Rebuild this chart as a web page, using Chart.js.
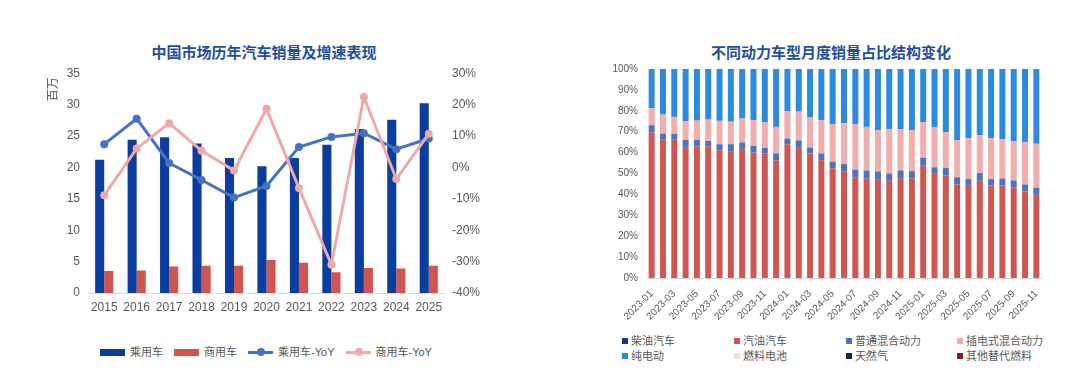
<!DOCTYPE html>
<html>
<head>
<meta charset="utf-8">
<script src="https://cdn.jsdelivr.net/npm/chart.js@4.4.1/dist/chart.umd.min.js"></script>
<style>
  html, body { margin: 0; padding: 0; background: #ffffff; }
  body { width: 1080px; height: 371px; position: relative; overflow: hidden;
         font-family: 'Liberation Sans', 'Noto Sans CJK SC', sans-serif; }
  .title { position: absolute; top: 43px; height: 20px; line-height: 20px; font-size: 15px; font-weight: bold;
           color: #1f4fa0; text-align: center; white-space: nowrap; }
  #leftTitle { left: 64px; width: 400px; }
  #rightTitle { left: 631px; width: 400px; }
  #leftWrap { position: absolute; left: 40px; top: 58px; width: 470px; height: 257px; }
  #rightWrap { position: absolute; left: 590px; top: 55px; width: 470px; height: 267px; }
  #leftLegend { position: absolute; left: 0; width: 532px; top: 345px; height: 14px; display: flex;
                justify-content: center; font-size: 11px; color: #595959; line-height: 14px; }
  #leftLegend .it { display: flex; align-items: center; margin: 0 5.5px; white-space: nowrap; }
  #leftLegend .ic { position: relative; width: 25px; height: 10px; margin-right: 5px; }
  #rightLegend { position: absolute; left: 0; top: 334px; width: 1080px; height: 36px;
                 font-size: 11px; color: #595959; }
  .li { position: absolute; height: 14px; line-height: 14px; white-space: nowrap; }
  .li span.box { display: inline-block; width: 6px; height: 6px; margin-right: 3px; vertical-align: 1px; }
</style>
</head>
<body>
<div class="title" id="leftTitle">中国市场历年汽车销量及增速表现</div>
<div class="title" id="rightTitle">不同动力车型月度销量占比结构变化</div>
<div id="leftWrap"><canvas id="leftChart"></canvas></div>
<div id="rightWrap"><canvas id="rightChart"></canvas></div>
<div id="leftLegend"></div>
<div id="rightLegend"></div>
<script>
// ---------------- Left chart data ----------------
const years = ['2015','2016','2017','2018','2019','2020','2021','2022','2023','2024','2025'];
const passengerSales = [21.2, 24.4, 24.8, 23.8, 21.5, 20.2, 21.5, 23.6, 26.1, 27.6, 30.2];
const commercialSales = [3.5, 3.6, 4.2, 4.35, 4.35, 5.25, 4.8, 3.3, 4.0, 3.9, 4.35];
const passengerYoY = [7.4, 15.5, 1.4, -4.0, -9.6, -5.9, 6.5, 9.7, 10.9, 5.8, 9.2];
const commercialYoY = [-8.9, 6.0, 14.1, 5.3, -1.0, 18.7, -6.6, -31.0, 22.4, -3.7, 10.7];
const leftSeriesNames = ['乘用车', '商用车', '乘用车-YoY', '商用车-YoY'];

// ---------------- Right chart data ----------------
const months = ['2023-01','2023-02','2023-03','2023-04','2023-05','2023-06','2023-07','2023-08','2023-09','2023-10','2023-11','2023-12',
                '2024-01','2024-02','2024-03','2024-04','2024-05','2024-06','2024-07','2024-08','2024-09','2024-10','2024-11','2024-12',
                '2025-01','2025-02','2025-03','2025-04','2025-05','2025-06','2025-07','2025-08','2025-09','2025-10','2025-11'];
const dieselShare = [0,0,0.3,0,0,0.3,0,0,0,0,0,0, 0,0.3,0,0,0,0,0,0,0,0,0,0, 0,0,0,0,0,0,0,0,0,0,0];
const gasolineShare = [69.6,66.4,66.1,62.7,62.9,62.6,61.1,60.7,61.8,60.0,59.6,56.2,
                       64.0,62.4,59.6,56.4,52.5,51.0,48.2,47.5,47.3,46.5,47.8,47.6,
                       54.0,50.2,49.0,44.7,44.1,46.5,44.3,44.3,43.3,41.4,39.8];
const hevShare = [3.5,2.7,2.6,3.4,3.2,2.7,2.9,3.3,3.0,3.2,2.7,3.4,
                  2.7,3.1,2.8,3.2,3.2,3.5,3.6,3.9,3.7,3.5,3.6,3.5,
                  3.6,2.8,3.7,3.5,3.2,3.7,3.0,3.3,3.4,3.3,3.4];
const phevShare = [8.1,9.1,8.1,8.9,9.2,10.2,11.2,10.8,11.5,12.3,12.1,12.7,
                   13.2,13.8,14.4,16.0,18.0,19.5,21.9,20.9,19.7,21.2,19.9,19.6,
                   16.9,19.1,17.0,17.7,19.6,18.1,19.6,18.8,18.7,20.3,21.0];
const bevShare = [18.8,21.8,22.9,25.0,24.7,24.2,24.8,25.2,23.7,24.5,25.6,27.7,
                  20.1,20.4,23.2,24.4,26.3,26.0,26.3,27.7,29.3,28.8,28.7,29.3,
                  25.5,27.9,30.3,34.1,33.1,31.7,33.1,33.6,34.6,35.0,35.8];
const fcevShare = [0,0,0,0,0,0,0,0,0,0,0,0, 0,0,0,0,0,0,0,0,0,0,0,0, 0,0,0,0,0,0,0,0,0,0,0];
const cngShare = [0,0,0,0,0,0,0,0,0,0,0,0, 0,0,0,0,0,0,0,0,0,0,0,0, 0,0,0,0,0,0,0,0,0,0,0];
const otherShare = [0,0,0,0,0,0,0,0,0,0,0,0, 0,0,0,0,0,0,0,0,0,0,0,0, 0,0,0,0,0,0,0,0,0,0,0];
const rightSeriesNames = ['柴油汽车','汽油汽车','普通混合动力','插电式混合动力','纯电动','燃料电池','天然气','其他替代燃料'];
const yTicksPercent = [0,10,20,30,40,50,60,70,80,90,100];

// ---------------- Styles ----------------
const FONT = "'Liberation Sans', 'Noto Sans CJK SC', sans-serif";
Chart.defaults.font.family = FONT;
Chart.defaults.color = '#595959';
Chart.defaults.animation = false;
const C_PASS = '#0a3d9e', C_COMM = '#d0554f', C_PASS_L = '#4672c4', C_COMM_L = '#f0a9a9';
const rightColors = ['#143c8c','#cf5752','#4b73c2','#f2adad','#2b8be0','#f7dde2','#0d2656','#8b1c1c'];
const leftColors = [C_PASS, C_COMM, C_PASS_L, C_COMM_L];
const leftKinds = ['bar', 'bar', 'line', 'line'];
const noGrid = { display: false, drawTicks: false, tickLength: 0 };

const unitLabel = {
  id: 'unitLabel',
  afterDraw(chart) {
    const ctx = chart.ctx, a = chart.chartArea;
    ctx.save();
    ctx.font = '12px ' + FONT;
    ctx.fillStyle = '#595959';
    ctx.translate(a.left - 34, a.top + 16);
    ctx.rotate(-Math.PI / 2);
    ctx.textAlign = 'center'; ctx.textBaseline = 'middle';
    ctx.fillText('百万', 0, 0);
    ctx.restore();
  }
};

new Chart(document.getElementById('leftChart'), {
  data: {
    labels: years,
    datasets: [
      { type: 'bar', label: leftSeriesNames[0], data: passengerSales, backgroundColor: C_PASS, yAxisID: 'y',
        categoryPercentage: 0.56, barPercentage: 1.0, order: 2 },
      { type: 'bar', label: leftSeriesNames[1], data: commercialSales, backgroundColor: C_COMM, yAxisID: 'y',
        categoryPercentage: 0.56, barPercentage: 1.0, order: 2 },
      { type: 'line', label: leftSeriesNames[2], data: passengerYoY, borderColor: C_PASS_L, backgroundColor: C_PASS_L,
        borderWidth: 3, pointRadius: 4, pointBackgroundColor: C_PASS_L, pointBorderWidth: 0, yAxisID: 'y1', order: 1, tension: 0 },
      { type: 'line', label: leftSeriesNames[3], data: commercialYoY, borderColor: C_COMM_L, backgroundColor: C_COMM_L,
        borderWidth: 3, pointRadius: 4, pointBackgroundColor: C_COMM_L, pointBorderWidth: 0, yAxisID: 'y1', order: 0, tension: 0 }
    ]
  },
  options: {
    responsive: true, maintainAspectRatio: false,
    layout: { padding: { left: 26, right: 30, top: 13, bottom: 0 } },
    plugins: { tooltip: { enabled: false }, legend: { display: false }, title: { display: false } },
    scales: {
      x: { grid: noGrid, border: { color: '#d9d9d9', width: 1 },
           afterFit: (s) => { s.height = 22; },
           ticks: { maxRotation: 0, minRotation: 0, autoSkip: false, font: { size: 12 }, color: '#595959', padding: 7 } },
      y: { position: 'left', min: 0, max: 35, grid: noGrid, border: { display: false },
           afterFit: (s) => { s.width = 22; },
           ticks: { stepSize: 5, font: { size: 12 }, color: '#595959', padding: 8 } },
      y1: { position: 'right', min: -40, max: 30, grid: noGrid, border: { display: false },
            afterFit: (s) => { s.width = 35; },
            ticks: { stepSize: 10, font: { size: 12 }, color: '#595959', padding: 7, callback: (v) => v + '%' } }
    }
  },
  plugins: [unitLabel]
});

const rightData = [dieselShare, gasolineShare, hevShare, phevShare, bevShare, fcevShare, cngShare, otherShare];
new Chart(document.getElementById('rightChart'), {
  type: 'bar',
  data: {
    labels: months,
    datasets: rightData.map((d, i) => ({
      label: rightSeriesNames[i], data: d, backgroundColor: rightColors[i],
      categoryPercentage: 1.0, barPercentage: 0.53, borderWidth: 0
    }))
  },
  options: {
    responsive: true, maintainAspectRatio: false,
    layout: { padding: { left: 22, right: 18, top: 9, bottom: 0 } },
    plugins: { tooltip: { enabled: false }, legend: { display: false }, title: { display: false } },
    scales: {
      x: { stacked: true, grid: noGrid, border: { color: '#d9d9d9' },
           afterFit: (s) => { s.height = 44; },
           ticks: { autoSkip: false, maxRotation: 45, minRotation: 45, font: { size: 10 }, color: '#595959', padding: 10,
                    callback: function (v, i) { return i % 2 === 0 ? months[i] : ''; } } },
      y: { stacked: true, min: 0, max: 100, grid: noGrid, border: { display: false },
           afterFit: (s) => { s.width = 34; },
           afterBuildTicks: (s) => { s.ticks = yTicksPercent.map(v => ({ value: v })); },
           ticks: { font: { size: 10 }, color: '#595959', padding: 8, callback: (v) => v + '%' } }
    }
  }
});

// left legend (HTML)
const ll = document.getElementById('leftLegend');
leftSeriesNames.forEach((name, i) => {
  const it = document.createElement('div');
  it.className = 'it';
  const ic = document.createElement('div');
  ic.className = 'ic';
  if (leftKinds[i] === 'bar') {
    ic.innerHTML = '<div style="position:absolute;left:0;top:1.5px;width:25px;height:7px;background:' + leftColors[i] + '"></div>';
  } else {
    ic.innerHTML = '<div style="position:absolute;left:0;top:3.5px;width:25px;height:3px;background:' + leftColors[i] + '"></div>' +
                   '<div style="position:absolute;left:9px;top:1px;width:8px;height:8px;border-radius:50%;background:' + leftColors[i] + '"></div>';
  }
  it.appendChild(ic);
  const t = document.createElement('span');
  t.textContent = name;
  it.appendChild(t);
  ll.appendChild(it);
});

// right legend (HTML grid, 4 columns x 2 rows)
const legendCols = [622, 734, 846, 957];
const legendRows = [0, 15];
const lg = document.getElementById('rightLegend');
rightSeriesNames.forEach((name, i) => {
  const d = document.createElement('div');
  d.className = 'li';
  d.style.left = legendCols[i % 4] + 'px';
  d.style.top = legendRows[Math.floor(i / 4)] + 'px';
  d.innerHTML = '<span class="box" style="background:' + rightColors[i] + '"></span>' + name;
  lg.appendChild(d);
});
</script>
</body>
</html>
